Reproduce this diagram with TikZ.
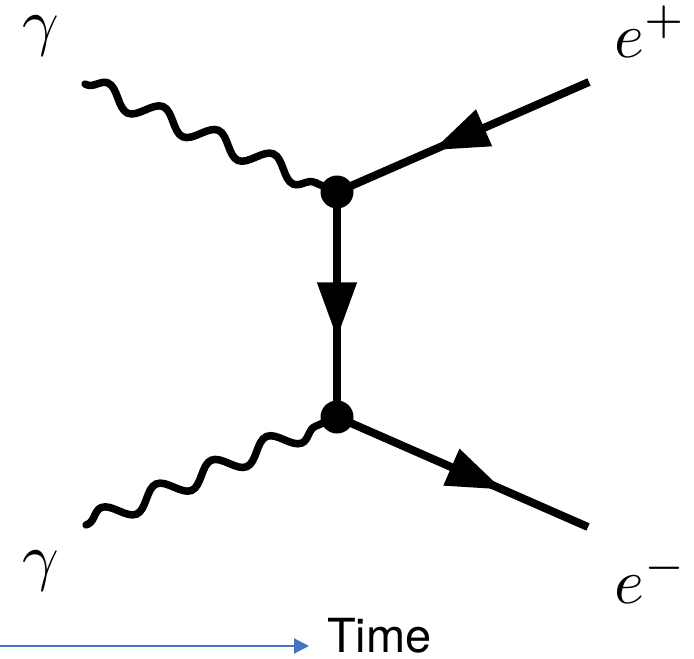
\documentclass[tikz,border=0pt]{standalone}
\usepackage{fontspec}
\newfontfamily\timefont{TeX Gyre Heros}
\usetikzlibrary{arrows.meta,decorations.markings,decorations.pathmorphing}
\definecolor{timeblue}{HTML}{4472C4}
\tikzset{
  fermion/.style={line width=8pt,
    postaction={decorate,decoration={markings,
      mark=at position #1 with {\arrow{Triangle[length=56pt,width=38pt]}}}}},
  photon/.style={line width=7.5pt,line cap=round,
    decorate,decoration={snake,segment length=60pt,amplitude=10pt,pre length=2pt,post length=6pt}},
  vertexdot/.style={circle,fill=black,minimum size=33pt,inner sep=0pt},
  lbl/.style={inner sep=0pt,scale=6.4},
  timelbl/.style={inner sep=0pt,font=\timefont\fontsize{47}{50}\selectfont},
  timearrow/.style={draw=timeblue,line width=2pt,-{Triangle[length=15pt,width=15pt]}}
}
\begin{document}
\begin{tikzpicture}[x=1pt,y=-1pt]
\useasboundingbox (0,0) rectangle (694,659);
% points
\coordinate (v1) at (337,192);
\coordinate (v2) at (337,417);
\coordinate (gin1) at (85,84);
\coordinate (gin2) at (86,525);
\coordinate (ep) at (589,82);
\coordinate (em) at (588,527);
% lines
\draw[photon] (gin1) -- (v1);
\draw[photon] (gin2) -- (v2);
\draw[fermion=0.62] (ep) -- (v1);
\draw[fermion=0.65] (v1) -- (v2);
\draw[fermion=0.66] (v2) -- (em);
\node[vertexdot] (d1) at (v1) {};
\node[vertexdot] (d2) at (v2) {};
% labels
\node[lbl] (lg1) at (41,36) {$\gamma$};
\node[lbl] (lg2) at (41,571) {$\gamma$};
\node[lbl,anchor=base west] (lep) at (613,57) {$e^+$};
\node[lbl,anchor=base west] (lem) at (613,603) {$e^-$};
% time arrow
\coordinate (t0) at (0,646);
\node[timelbl,anchor=base west] (tl) at (327,652) {Time};
\draw[timearrow] (t0) -- (309,646);
\end{tikzpicture}
\end{document}
